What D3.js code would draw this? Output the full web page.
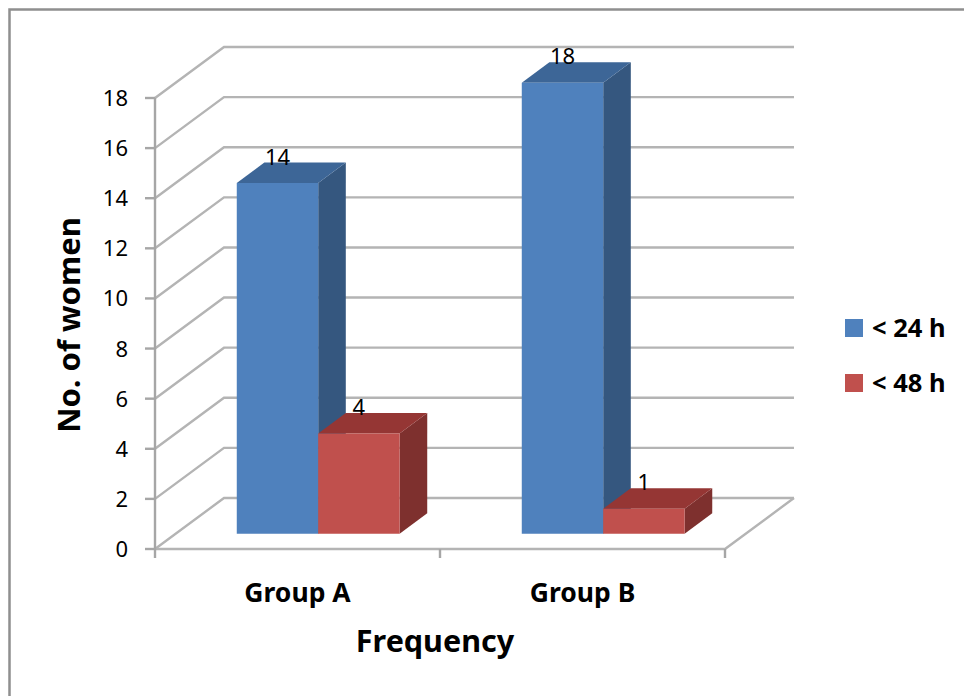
<!DOCTYPE html>
<html>
<head>
<meta charset="utf-8">
<script src="https://cdn.jsdelivr.net/npm/d3@7"></script>
<style>
  html, body { margin: 0; padding: 0; background: #fff; }
  svg { display: block; }
  text { font-family: "Noto Sans", "Open Sans", sans-serif; fill: #000; }
</style>
</head>
<body>
<svg id="chart" width="964" height="696"></svg>
<script>
// Data
const categories = ["Group A", "Group B"];
const seriesNames = ["< 24 h", "< 48 h"];
const under24h = [14, 18];
const under48h = [4, 1];
const yTickValues = [0, 2, 4, 6, 8, 10, 12, 14, 16, 18];
const axisTitleX = "Frequency";
const axisTitleY = "No. of women";

const series = [
  { name: seriesNames[0], values: under24h, front: "#4f81bd", top: "#3d6697", side: "#35577f" },
  { name: seriesNames[1], values: under48h, front: "#c0504d", top: "#953634", side: "#7e302e" }
];

const svg = d3.select("#chart");

// Chart frame
svg.append("rect")
  .attr("x", 9.5).attr("y", 9.5).attr("width", 980).attr("height", 720)
  .attr("fill", "none").attr("stroke", "#8f8f8f").attr("stroke-width", 2.5);

// Front-plane scales; the depth axis is an oblique offset
const y = d3.scaleLinear().domain([0, 18]).range([549, 98]);
const x = d3.scaleBand().domain(categories).range([155, 725]).paddingInner(0).paddingOuter(0);
const depth = { dx: 69, dy: -51 };
const proj = (px, v, d) => [px + d * depth.dx, y(v) + d * depth.dy];

const grid = svg.append("g");
const gridColor = "#b4b4b4";
const line = d3.line();

// Back wall gridlines and side wall diagonals
yTickValues.forEach(v => {
  grid.append("path")
    .attr("d", line([proj(x.range()[0], v, 0), proj(x.range()[0], v, 1), proj(x.range()[1], v, 1)]))
    .attr("fill", "none").attr("stroke", gridColor).attr("stroke-width", 2.4)
    .attr("stroke-linejoin", "miter");
});

// Floor outline (front and right edges)
grid.append("path")
  .attr("d", line([proj(x.range()[0], 0, 0), proj(x.range()[1], 0, 0), proj(x.range()[1], 0, 1)]))
  .attr("fill", "none").attr("stroke", gridColor).attr("stroke-width", 2.4);

// Value axis line and ticks
const axisColor = "#a6a6a6";
grid.append("line")
  .attr("x1", 155).attr("x2", 155).attr("y1", y(18)).attr("y2", y(0))
  .attr("stroke", axisColor).attr("stroke-width", 2.4);
grid.selectAll(".ytick").data(yTickValues).join("line")
  .attr("x1", 145).attr("x2", 155)
  .attr("y1", d => y(d)).attr("y2", d => y(d))
  .attr("stroke", axisColor).attr("stroke-width", 2.4);

// Category ticks along the floor's front edge
const catBounds = [x.range()[0], ...categories.map(c => x(c) + x.bandwidth())];
grid.selectAll(".xtick").data(catBounds).join("line")
  .attr("x1", d => d).attr("x2", d => d)
  .attr("y1", y(0)).attr("y2", y(0) + 9)
  .attr("stroke", axisColor).attr("stroke-width", 2.4);

// Tick labels
svg.append("g").selectAll("text").data(yTickValues).join("text")
  .attr("x", 128).attr("y", d => y(d) + 8)
  .attr("text-anchor", "end")
  .style("font-size", "22px")
  .text(d => d);

// Bars: width from a 150% gap, depth from a 150% gap depth
const barW = x.bandwidth() / 3.5;
const d0 = 0.3, d1 = 0.7;
const bars = svg.append("g");
const labels = svg.append("g");

categories.forEach((cat, ci) => {
  series.forEach((s, si) => {
    const v = s.values[ci];
    const xl = x(cat) + 0.75 * barW + si * barW;
    const xr = xl + barW;
    const g = bars.append("g");
    // side face
    g.append("path")
      .attr("d", line([proj(xr, 0, d0), proj(xr, 0, d1), proj(xr, v, d1), proj(xr, v, d0)]) + "Z")
      .attr("fill", s.side);
    // top face
    g.append("path")
      .attr("d", line([proj(xl, v, d0), proj(xr, v, d0), proj(xr, v, d1), proj(xl, v, d1)]) + "Z")
      .attr("fill", s.top);
    // front face
    g.append("path")
      .attr("d", line([proj(xl, 0, d0), proj(xr, 0, d0), proj(xr, v, d0), proj(xl, v, d0)]) + "Z")
      .attr("fill", s.front);
    // value label
    const [lx] = proj((xl + xr) / 2, v, d0);
    const [, ly] = proj(xl, v, d1);
    labels.append("text")
      .attr("x", lx).attr("y", ly + 2)
      .attr("text-anchor", "middle")
      .style("font-size", "22px")
      .text(v);
  });
});

// Category labels
svg.append("g").selectAll("text").data(categories).join("text")
  .attr("x", d => x(d) + x.bandwidth() / 2)
  .attr("y", 602)
  .attr("text-anchor", "middle")
  .style("font-size", "26.5px").style("font-weight", "bold")
  .text(d => d);

// Axis titles
svg.append("text")
  .attr("x", 435).attr("y", 652)
  .attr("text-anchor", "middle")
  .style("font-size", "30.5px").style("font-weight", "bold")
  .text(axisTitleX);

svg.append("text")
  .attr("transform", "translate(80,325) rotate(-90)")
  .attr("text-anchor", "middle")
  .style("font-size", "31px").style("font-weight", "bold")
  .text(axisTitleY);

// Legend
const legend = svg.append("g").attr("transform", "translate(845,319)");
series.forEach((s, i) => {
  const row = legend.append("g").attr("transform", `translate(0,${i * 55})`);
  row.append("rect").attr("width", 18).attr("height", 18).attr("fill", s.front);
  row.append("text")
    .attr("x", 27).attr("y", 18)
    .style("font-size", "25.5px").style("font-weight", "bold")
    .text(s.name);
});
</script>
</body>
</html>
